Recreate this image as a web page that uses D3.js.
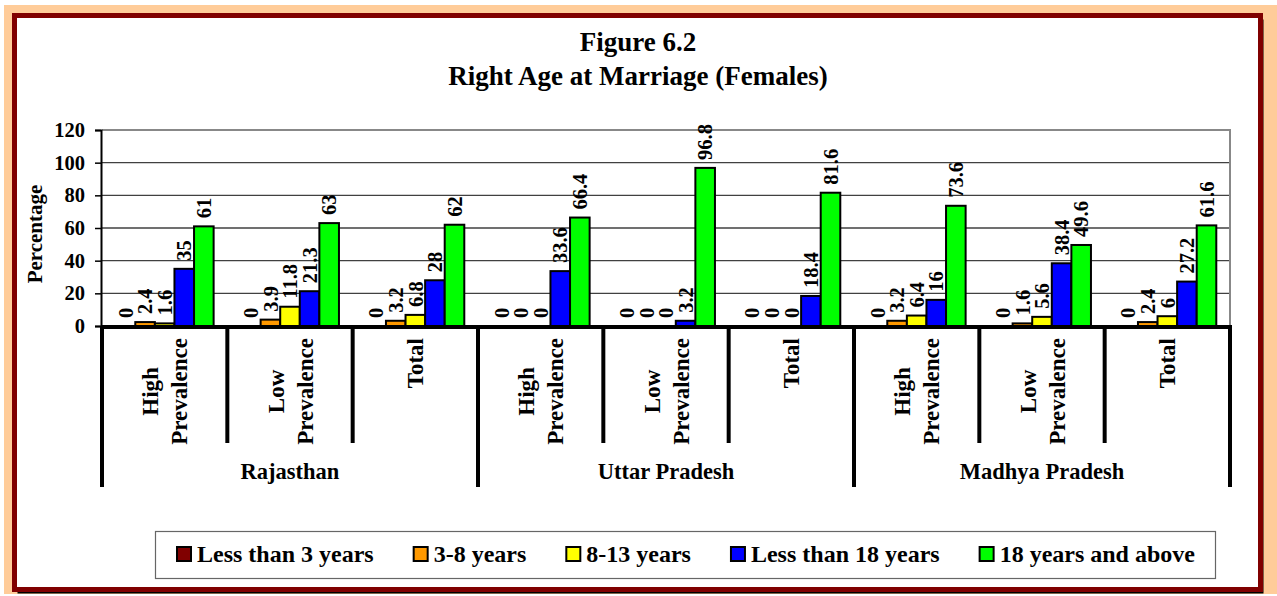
<!DOCTYPE html>
<html>
<head>
<meta charset="utf-8">
<script src="https://cdn.jsdelivr.net/npm/d3@7"></script>
<style>
  body { margin: 0; background: #fff; }
  svg text { font-family: "Liberation Serif", "Times New Roman", serif; font-weight: bold; fill: #000; }
</style>
</head>
<body>
<svg id="chart"></svg>
<script>
// chart values
var groups = ["Rajasthan", "Uttar Pradesh", "Madhya Pradesh"];
var subCats = ["High Prevalence", "Low Prevalence", "Total"];
var seriesNames = ["Less than 3 years", "3-8 years", "8-13 years", "Less than 18 years", "18 years and above"];
var seriesColors = ["#800000", "#FF9900", "#FFFF00", "#0000FF", "#00FF00"];
var lessThan3 = [0, 0, 0, 0, 0, 0, 0, 0, 0];
var years3to8 = [2.4, 3.9, 3.2, 0, 0, 0, 3.2, 1.6, 2.4];
var years8to13 = [1.6, 11.8, 6.8, 0, 0, 0, 6.4, 5.6, 6];
var lessThan18 = [35, 21.3, 28, 33.6, 3.2, 18.4, 16, 38.4, 27.2];
var above18 = [61, 63, 62, 66.4, 96.8, 81.6, 73.6, 49.6, 61.6];
var yTicks = [0, 20, 40, 60, 80, 100, 120];

var seriesValues = [lessThan3, years3to8, years8to13, lessThan18, above18];

var width = 1277, height = 596;
var svg = d3.select("#chart").attr("width", width).attr("height", height);

// one row per (state, prevalence) pair
var rows = [];
groups.forEach(function(g, gi) {
  subCats.forEach(function(s, si) {
    var i = gi * subCats.length + si;
    rows.push({ id: i, group: g, label: s, values: seriesValues.map(function(arr) { return arr[i]; }) });
  });
});

// background and frame
svg.append("rect").attr("x", 4).attr("y", 5).attr("width", 1273).attr("height", 589).attr("fill", "#FFCC99");
svg.append("rect").attr("x", 17.5).attr("y", 19.5).attr("width", 1246).attr("height", 574).attr("fill", "#000");
svg.append("rect").attr("x", 14.5).attr("y", 15.5).attr("width", 1246).attr("height", 574)
    .attr("fill", "#fff").attr("stroke", "#800000").attr("stroke-width", 5);

// title
svg.append("text").attr("x", 638).attr("y", 51).attr("text-anchor", "middle")
    .style("font-size", "27px").text("Figure 6.2");
svg.append("text").attr("x", 638).attr("y", 85).attr("text-anchor", "middle")
    .style("font-size", "27px").text("Right Age at Marriage (Females)");

var plot = { left: 102, right: 1230, top: 130, bottom: 326 };

var x = d3.scaleBand()
    .domain(rows.map(function(d) { return d.id; }))
    .range([plot.left, plot.right]);

var xSub = d3.scaleBand()
    .domain(d3.range(seriesNames.length))
    .range([0, x.bandwidth()])
    .paddingOuter(0.7);

var y = d3.scaleLinear().domain([0, 120]).range([plot.bottom, plot.top]);

// gridlines
svg.append("g")
  .selectAll("line")
  .data(yTicks.filter(function(t) { return t > 0 && t < 120; }))
  .enter().append("line")
    .attr("x1", plot.left).attr("x2", plot.right)
    .attr("y1", function(d) { return y(d); }).attr("y2", function(d) { return y(d); })
    .attr("stroke", "#404040").attr("stroke-width", 1.3);

// plot top / right border
svg.append("path")
    .attr("d", "M" + plot.left + "," + y(120) + "H" + plot.right + "V" + plot.bottom)
    .attr("fill", "none").attr("stroke", "#888").attr("stroke-width", 2);

// y axis
var yAxis = svg.append("g")
    .attr("transform", "translate(" + (plot.left - 1) + ",0)")
    .call(d3.axisLeft(y).tickValues(yTicks).tickSize(6).tickPadding(10));
yAxis.select(".domain").attr("stroke", "#000").attr("stroke-width", 2);
yAxis.selectAll(".tick line").attr("stroke", "#000").attr("stroke-width", 1.5);
yAxis.selectAll(".tick text").style("font-size", "20.5px")
    .style("font-family", "'Liberation Serif', 'Times New Roman', serif").style("font-weight", "bold");

svg.append("text")
    .attr("transform", "translate(42,234) rotate(-90)")
    .attr("text-anchor", "middle")
    .style("font-size", "21px")
    .text("Percentage");

// bars
var cat = svg.append("g").selectAll("g")
  .data(rows)
  .enter().append("g")
    .attr("transform", function(d) { return "translate(" + x(d.id) + ",0)"; });

cat.selectAll("rect")
  .data(function(d) { return d.values; })
  .enter().append("rect")
    .attr("x", function(v, i) { return xSub(i); })
    .attr("y", function(v) { return y(v); })
    .attr("width", xSub.bandwidth())
    .attr("height", function(v) { return y(0) - y(v); })
    .attr("fill", function(v, i) { return seriesColors[i]; })
    .attr("stroke", "#000").attr("stroke-width", 2);

cat.selectAll("text.val")
  .data(function(d) { return d.values; })
  .enter().append("text")
    .attr("class", "val")
    .attr("transform", function(v, i) {
      return "translate(" + (xSub(i) + xSub.bandwidth() / 2) + "," + (y(v) - 8) + ") rotate(-90)";
    })
    .attr("dy", "0.35em")
    .style("font-size", "20.5px")
    .text(function(v) { return v; });

// x axis line and category boxes
svg.append("line")
    .attr("x1", plot.left - 1).attr("x2", plot.right + 2)
    .attr("y1", plot.bottom + 1).attr("y2", plot.bottom + 1)
    .attr("stroke", "#000").attr("stroke-width", 4);

var bounds = d3.range(rows.length + 1);
svg.append("g").selectAll("line")
  .data(bounds)
  .enter().append("line")
    .attr("x1", function(i) { return plot.left + i * x.step(); })
    .attr("x2", function(i) { return plot.left + i * x.step(); })
    .attr("y1", plot.bottom)
    .attr("y2", function(i) { return i % subCats.length === 0 ? 487 : 443; })
    .attr("stroke", "#000").attr("stroke-width", 4);

// category labels (rotated, lines centred on the longest one)
var lineGap = 29;
cat.each(function(d) {
  var g = d3.select(this);
  var lines = d.label.split(" ");
  var t = g.append("text")
      .attr("text-anchor", "middle")
      .style("font-size", "23px");
  lines.forEach(function(l, li) {
    t.append("tspan").attr("x", 0).attr("y", (li - (lines.length - 1) / 2) * lineGap).attr("dy", "0.35em").text(l);
  });
  var maxLen = d3.max(t.selectAll("tspan").nodes(), function(n) { return n.getComputedTextLength(); });
  t.attr("transform", "translate(" + (x.bandwidth() / 2) + "," + (338 + maxLen / 2) + ") rotate(-90)");
});

// group labels
svg.append("g").selectAll("text")
  .data(groups)
  .enter().append("text")
    .attr("x", function(g, gi) { return plot.left + (gi + 0.5) * subCats.length * x.step(); })
    .attr("y", 479)
    .attr("text-anchor", "middle")
    .style("font-size", "22.5px")
    .text(function(g) { return g; });

// legend
svg.append("rect").attr("x", 155.5).attr("y", 531.5).attr("width", 1060).attr("height", 47)
    .attr("fill", "#fff").attr("stroke", "#666").attr("stroke-width", 1.2);

var legend = svg.append("g");
var lx = 177;
seriesNames.forEach(function(name, i) {
  var item = legend.append("g").attr("transform", "translate(" + lx + ",547)");
  item.append("rect").attr("x", 0).attr("y", 0).attr("width", 14).attr("height", 14)
      .attr("fill", seriesColors[i]).attr("stroke", "#000").attr("stroke-width", 2);
  var t = item.append("text").attr("x", 20).attr("y", 15).style("font-size", "24px").text(name);
  lx += 20 + t.node().getComputedTextLength() + 40;
});
</script>
</body>
</html>
